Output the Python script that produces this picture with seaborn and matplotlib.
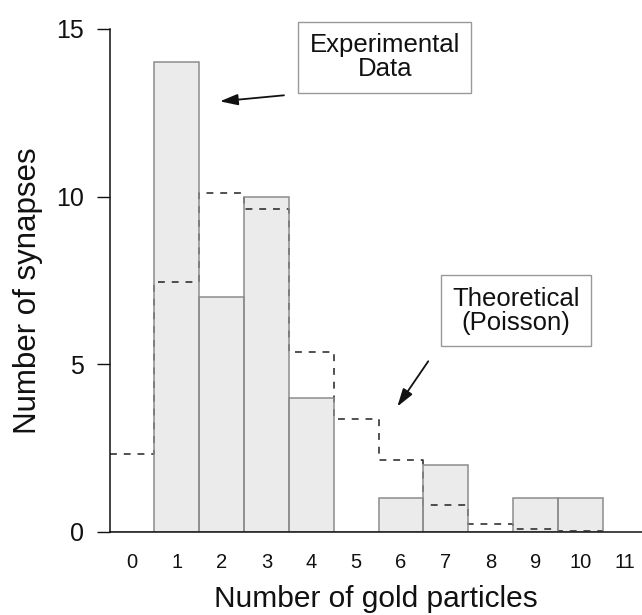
import numpy as np
import pandas as pd
import matplotlib; matplotlib.use("Agg")
import matplotlib.pyplot as plt
import seaborn as sns

sns.set_theme(style="white")
plt.rcParams["font.family"] = ["Liberation Sans", "DejaVu Sans"]

# ── data ─────────────────────────────────────────────────────────────
particles    = [0, 1, 2, 3, 4, 5, 6, 7, 8, 9, 10]
experimental = [0, 14, 7, 10, 4, 0, 1, 2, 0, 1, 1]
poisson      = [2.33, 7.45, 10.12, 9.62, 5.38, 3.38, 2.15, 0.80, 0.24, 0.08, 0.03]
xticks       = list(range(0, 12))
yticks       = [0, 5, 10, 15]

df = pd.DataFrame({"n": particles, "exp": experimental, "poi": poisson})

fig = plt.figure(figsize=(6.42, 6.15), dpi=100)
ax = fig.add_axes([0.1708, 0.135, 0.8292, 0.818])

# experimental histogram (fill only)
sns.histplot(data=df, x="n", weights="exp", discrete=True, ax=ax,
             color="#ebebeb", edgecolor="none", linewidth=0, alpha=1, zorder=1)

# theoretical (Poisson) as a dashed step outline
sns.histplot(data=df, x="n", weights="poi", discrete=True, ax=ax,
             element="step", fill=False, color="#222222",
             linewidth=1.1, linestyle=(0, (4.5, 4.5)), zorder=2)

# bar outlines on top so the shared edges stay solid
sns.histplot(data=df, x="n", weights="exp", discrete=True, ax=ax,
             fill=False, color="#8c8c8c", linewidth=1.1, zorder=3)

ax.set_xlim(-0.5, 11.38)
ax.set_ylim(0, 15)
ax.set_xticks(xticks)
ax.set_yticks(yticks)
ax.tick_params(axis="x", length=0, pad=15, labelsize=14.5, colors="#111111")
ax.tick_params(axis="y", length=9.5, width=1, pad=9, labelsize=18,
               colors="#111111", left=True)
sns.despine(ax=ax)
for s in ["left", "bottom"]:
    ax.spines[s].set_linewidth(1.1)
    ax.spines[s].set_color("#111111")
    ax.spines[s].set_zorder(5)

ax.set_xlabel("Number of gold particles", fontsize=21.5, color="#111111")
ax.set_ylabel("Number of synapses", fontsize=22.5, color="#111111")
ax.xaxis.set_label_coords(0.5, -0.105)
ax.yaxis.set_label_coords(-0.125, 0.48)

# annotation boxes + arrows
box = dict(boxstyle="square,pad=0.44", fc="white", ec="#999999", lw=1)
ax.text(5.64, 14.15, "Experimental\nData", ha="center", va="center",
        fontsize=18.5, linespacing=1.0, bbox=box, clip_on=False, color="#111111")
ax.text(8.57, 6.60, "Theoretical\n(Poisson)", ha="center", va="center",
        fontsize=18.5, linespacing=1.0, bbox=box, clip_on=False, color="#111111")

arrow = dict(arrowstyle="-|>,head_length=0.9,head_width=0.28", color="#111111",
             lw=1.3, shrinkA=0, shrinkB=0)
ax.annotate("", xy=(1.96, 12.84), xytext=(3.39, 13.02), arrowprops=arrow)
ax.annotate("", xy=(5.92, 3.74), xytext=(6.61, 5.09), arrowprops=arrow)

fig.savefig("out.png", dpi=100)
